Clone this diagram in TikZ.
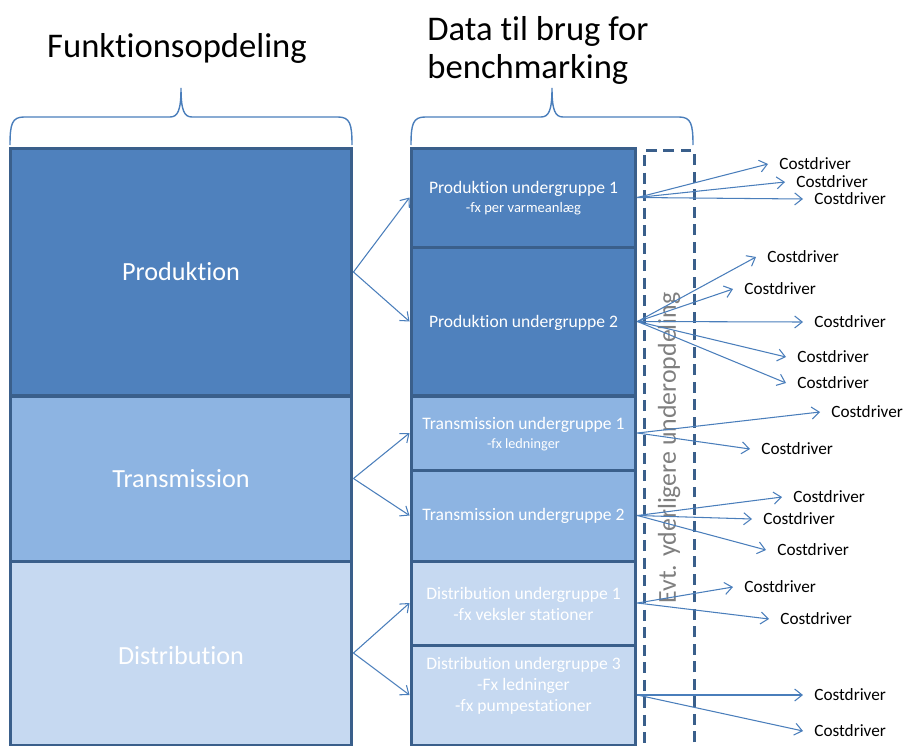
\documentclass[tikz,border=0pt]{standalone}
\usepackage{fontspec}
\setmainfont{Carlito}[Ligatures=NoCommon]
\usetikzlibrary{arrows.meta}
\definecolor{dkb}{HTML}{3A5F8B}
\definecolor{lnb}{HTML}{4A7EBB}
\definecolor{fprod}{HTML}{4F81BD}
\definecolor{ftrans}{HTML}{8DB4E2}
\definecolor{fdist}{HTML}{C6D9F1}
\definecolor{vgray}{HTML}{7F7F7F}
\tikzset{
  box/.style={draw=dkb, line width=1.7pt, inner sep=0pt},
  lbox/.style={box, minimum width=6.84cm},
  rbox/.style={box, minimum width=4.5cm},
  arr/.style={draw=lnb, line width=0.6pt, -{Straight Barb[length=1.5mm,width=2.4mm]}},
  brace/.style={draw=lnb, line width=0.8pt},
  cd/.style={anchor=west, inner xsep=0.22cm, inner ysep=0pt, font=\fontsize{9.8}{12}\selectfont},
  big/.style={text=white, font=\fontsize{14.9}{18}\selectfont},
  sub/.style={text=white, align=center, font=\fontsize{10}{12}\selectfont},
  title/.style={font=\fontsize{19.7}{21.6}\selectfont}
}
\begin{document}
\begin{tikzpicture}[x=0.02cm, y=-0.02cm]
\useasboundingbox (0,0) rectangle (905,747);

% titles
\node[title] (t1) at (177,48) {Funktionsopdeling};
\node[title, align=left] (t2) at (538,50) {Data til brug for\\benchmarking};

% braces
\draw[brace] (10,145) .. controls (10,124) and (12,117) .. (24,117) -- (170,117)
  .. controls (178,117) and (181,110) .. (181,88)
  .. controls (181,110) and (184,117) .. (192,117) -- (338,117)
  .. controls (350,117) and (352,124) .. (352,145);
\draw[brace] (411,145) .. controls (411,124) and (413,117) .. (425,117) -- (541,117)
  .. controls (549,117) and (552,110) .. (552,88)
  .. controls (552,110) and (555,117) .. (563,117) -- (679,117)
  .. controls (691,117) and (693,124) .. (693,145);

% dashed frame
\node[draw=dkb, line width=1.7pt, dash pattern=on 0.22cm off 0.13cm,
  minimum width=1cm, minimum height=12.6cm, inner sep=0pt] (frame) at (669,465) {};
\node[rotate=90, text=vgray, font=\fontsize{14.7}{18}\selectfont] (evt) at (669,448)
  {Evt. yderligere underopdeling};

% left boxes
\node[lbox, fill=fprod, minimum height=4.96cm] (prod) at (181,272) {};
\node[lbox, fill=ftrans, minimum height=3.3cm] (trans) at (181,478.5) {};
\node[lbox, fill=fdist, minimum height=3.68cm] (dist) at (181,653) {};
\node[big] (prodt) at (181,272) {Produktion};
\node[big] (transt) at (181,479) {Transmission};
\node[big] (distt) at (181,655) {Distribution};

% right boxes
\node[rbox, fill=fprod, minimum height=1.98cm] (ps1) at (523.5,197.5) {};
\node[rbox, fill=fprod, minimum height=2.98cm] (ps2) at (523.5,321.5) {};
\node[rbox, fill=ftrans, minimum height=1.48cm] (ts1) at (523.5,433) {};
\node[rbox, fill=ftrans, minimum height=1.82cm] (ts2) at (523.5,515.5) {};
\node[rbox, fill=fdist, minimum height=1.68cm] (ds1) at (523.5,603) {};
\node[rbox, fill=fdist, minimum height=2.0cm] (ds3) at (523.5,695) {};

\node[sub] (ps1t) at (523.5,198) {Produktion undergruppe 1\\[-1pt]{\fontsize{8.3}{10}\selectfont -fx per varmeanlæg}};
\node[sub] (ps2t) at (523.5,323) {Produktion undergruppe 2};
\node[sub] (ts1t) at (523.5,434) {Transmission undergruppe 1\\[-1pt]{\fontsize{8.1}{10}\selectfont -fx ledninger}};
\node[sub] (ts2t) at (523.5,516) {Transmission undergruppe 2};
\node[sub] (ds1t) at (523.5,603.5) {Distribution undergruppe 1\\-fx veksler stationer};
\node[sub] (ds3t) at (523.5,686) {Distribution undergruppe 3\\-Fx ledninger\\-fx pumpestationer};

% left-to-right arrows
\draw[arr] (prod.east) -- (ps1.west);
\draw[arr] (prod.east) -- (ps2.west);
\draw[arr] (trans.east) -- (ts1.west);
\draw[arr] (trans.east) -- (ts2.west);
\draw[arr] (dist.east) -- (ds1.west);
\draw[arr] (dist.east) -- (ds3.west);

% costdrivers
\node[cd] (c1) at (768,164) {Costdriver};
\node[cd] (c2) at (785,182) {Costdriver};
\node[cd] (c3) at (803,199) {Costdriver};
\node[cd] (c4) at (756,257) {Costdriver};
\node[cd] (c5) at (733,289) {Costdriver};
\node[cd] (c6) at (803,322) {Costdriver};
\node[cd] (c7) at (786,357) {Costdriver};
\node[cd] (c8) at (786,383) {Costdriver};
\node[cd] (c9) at (820,412) {Costdriver};
\node[cd] (c10) at (750,449) {Costdriver};
\node[cd] (c11) at (782,497) {Costdriver};
\node[cd] (c12) at (752,519) {Costdriver};
\node[cd] (c13) at (766,550) {Costdriver};
\node[cd] (c14) at (733,587) {Costdriver};
\node[cd] (c15) at (769,619) {Costdriver};
\node[cd] (c16) at (803,695) {Costdriver};
\node[cd] (c17) at (803,731) {Costdriver};

\foreach \t in {c1,c2,c3} \draw[arr] (ps1.east) -- (\t.west);
\foreach \t in {c4,c5,c6,c7,c8} \draw[arr] (ps2.east) -- (\t.west);
\foreach \t in {c9,c10} \draw[arr] (ts1.east) -- (\t.west);
\foreach \t in {c11,c12,c13} \draw[arr] (ts2.east) -- (\t.west);
\foreach \t in {c14,c15} \draw[arr] (ds1.east) -- (\t.west);
\foreach \t in {c16,c17} \draw[arr] (ds3.east) -- (\t.west);
\end{tikzpicture}
\end{document}
